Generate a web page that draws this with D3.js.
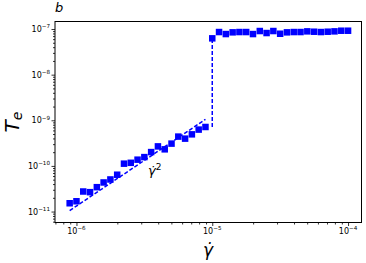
<!DOCTYPE html>
<html><head><meta charset="utf-8">
<script src="https://cdn.jsdelivr.net/npm/d3@7"></script>
<style>body{margin:0;background:#fff}svg{display:block}text{font-family:"DejaVu Sans",sans-serif}</style>
</head><body><svg id="c" width="366" height="263"></svg>
<script>
const shearRate = [8.913e-7,1.000e-6,1.122e-6,1.259e-6,1.413e-6,1.585e-6,1.778e-6,1.995e-6,2.239e-6,2.512e-6,
  2.818e-6,3.162e-6,3.548e-6,3.981e-6,4.467e-6,5.012e-6,5.623e-6,6.310e-6,7.079e-6,7.943e-6,8.913e-6,
  1.000e-5,1.122e-5,1.259e-5,1.413e-5,1.585e-5,1.778e-5,1.995e-5,2.239e-5,2.512e-5,2.818e-5,3.162e-5,
  3.548e-5,3.981e-5,4.467e-5,5.012e-5,5.623e-5,6.310e-5,7.079e-5,7.943e-5,8.913e-5,1.000e-4];
const stressTe = [1.52e-11,1.68e-11,2.75e-11,2.66e-11,3.42e-11,4.34e-11,5.05e-11,6.41e-11,1.12e-10,1.17e-10,
  1.37e-10,1.56e-10,2.01e-10,2.68e-10,2.31e-10,3.08e-10,4.39e-10,3.96e-10,4.92e-10,6.25e-10,7.13e-10,
  6.25e-8,8.59e-8,7.76e-8,8.46e-8,8.59e-8,8.59e-8,7.76e-8,9.04e-8,8.17e-8,9.04e-8,7.88e-8,
  8.46e-8,8.59e-8,8.59e-8,8.89e-8,8.73e-8,8.59e-8,8.73e-8,8.89e-8,9.18e-8,9.18e-8];
const fitX = [8.913e-7, 8.913e-6];
const fitY = [1.05e-11, 1.05e-9];
const jumpX = [1e-5, 1e-5];
const jumpY = [7.13e-10, 6.25e-8];
const xTicks = [1e-6, 1e-5, 1e-4];
const xTickExp = ["−6", "−5", "−4"];
const yTicks = [1e-11, 1e-10, 1e-9, 1e-8, 1e-7];
const yTickExp = ["−11", "−10", "−9", "−8", "−7"];

const L = 55, R = 361.5, T = 21.5, B = 222.5;
const svg = d3.select("#c");
const x = d3.scaleLog().domain([Math.pow(10,-6.158), Math.pow(10,-3.901)]).range([L, R]);
const y = d3.scaleLog().domain([Math.pow(10,-11.24), Math.pow(10,-6.835)]).range([B, T]);

function minors(dom) {
  const out = [];
  const lo = Math.floor(Math.log10(dom[0])), hi = Math.ceil(Math.log10(dom[1]));
  for (let e = lo; e <= hi; e++) for (let m = 2; m <= 9; m++) {
    const v = m * Math.pow(10, e);
    if (v >= dom[0] && v <= dom[1]) out.push(v);
  }
  return out;
}

// minor ticks
const gx = svg.append("g").attr("transform", `translate(0,${B})`);
gx.call(d3.axisBottom(x).tickValues(minors(x.domain())).tickSize(2).tickFormat(""));
const gx2 = svg.append("g").attr("transform", `translate(0,${B})`);
gx2.call(d3.axisBottom(x).tickValues(xTicks).tickSize(3.5).tickPadding(2).tickFormat(""));
const gy = svg.append("g").attr("transform", `translate(${L},0)`);
gy.call(d3.axisLeft(y).tickValues(minors(y.domain())).tickSize(2).tickFormat(""));
const gy2 = svg.append("g").attr("transform", `translate(${L},0)`);
gy2.call(d3.axisLeft(y).tickValues(yTicks).tickSize(3.5).tickFormat(""));
svg.selectAll(".domain").remove();
svg.selectAll(".tick line").attr("stroke", "#000").attr("stroke-width", 0.8);

// tick labels
xTicks.forEach((v, i) => {
  const t = svg.append("text").attr("x", x(v)).attr("y", 234).attr("text-anchor", "middle")
    .attr("font-size", 8).attr("fill", "#000");
  t.append("tspan").text("10");
  t.append("tspan").attr("dy", -3.6).attr("font-size", 5.6).text(xTickExp[i]);
});
yTicks.forEach((v, i) => {
  const t = svg.append("text").attr("x", 50).attr("y", y(v) + 3).attr("text-anchor", "end")
    .attr("font-size", 8).attr("fill", "#000");
  t.append("tspan").text("10");
  t.append("tspan").attr("dy", -3.6).attr("font-size", 5.6).text(yTickExp[i]);
});

// frame
svg.append("rect").attr("x", L).attr("y", T).attr("width", R - L).attr("height", B - T)
  .attr("fill", "none").attr("stroke", "#000").attr("stroke-width", 1);

const line = d3.line().x(d => x(d[0])).y(d => y(d[1]));
svg.append("path").datum(fitX.map((v, i) => [v, fitY[i]])).attr("d", line)
  .attr("fill", "none").attr("stroke", "blue").attr("stroke-width", 1.5).attr("stroke-dasharray", "4,2");
svg.append("path").datum(jumpX.map((v, i) => [v, jumpY[i]])).attr("d", line)
  .attr("fill", "none").attr("stroke", "blue").attr("stroke-width", 1.5).attr("stroke-dasharray", "4,2");

const s = 6.5;
svg.append("g").selectAll("rect").data(shearRate.map((v, i) => [v, stressTe[i]])).join("rect")
  .attr("x", d => x(d[0]) - s / 2).attr("y", d => y(d[1]) - s / 2)
  .attr("width", s).attr("height", s).attr("fill", "blue");

// annotation
const a = svg.append("text").attr("x", 148).attr("y", 175).attr("font-size", 13).attr("font-style", "italic").attr("fill", "#000");
a.append("tspan").text("γ̇");
a.append("tspan").attr("dy", -5).attr("font-size", 9).attr("font-style", "normal").text("2");

// panel label
svg.append("text").attr("x", 55).attr("y", 12).attr("font-size", 13).attr("font-style", "italic").text("b");

// axis labels
svg.append("text").attr("x", 208).attr("y", 256).attr("text-anchor", "middle")
  .attr("font-size", 17).attr("font-style", "italic").text("γ̇");
const yl = svg.append("text").attr("transform", "translate(18.5,122) rotate(-90)").attr("text-anchor", "middle")
  .attr("font-size", 20).attr("font-style", "italic");
yl.append("tspan").text("T");
yl.append("tspan").attr("dy", 3).attr("font-size", 14).text("e");
</script></body></html>
